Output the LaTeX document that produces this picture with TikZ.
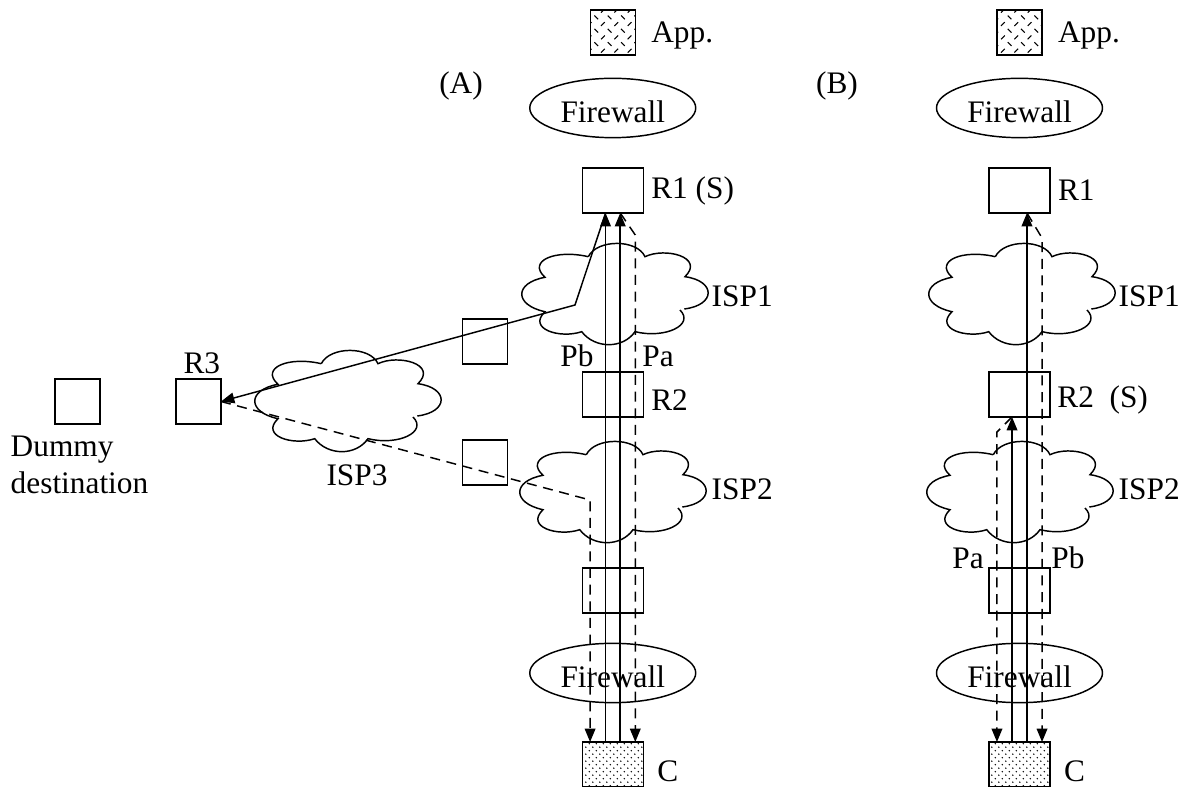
\documentclass[tikz,border=0pt]{standalone}
\usepackage{fontspec}
\setmainfont{Liberation Serif}
\usepackage{tikz}
\usetikzlibrary{shapes.geometric, arrows.meta, positioning, patterns}
\pgfdeclarepatternformonly{appdash}{\pgfqpoint{-1pt}{-1pt}}{\pgfqpoint{11pt}{11pt}}{\pgfqpoint{10pt}{10pt}}{
    \pgfsetlinewidth{0.8pt}
    \pgfpathmoveto{\pgfqpoint{0.8pt}{0.8pt}}\pgfpathlineto{\pgfqpoint{3.6pt}{3.6pt}}
    \pgfpathmoveto{\pgfqpoint{5.8pt}{8.6pt}}\pgfpathlineto{\pgfqpoint{8.6pt}{5.8pt}}
    \pgfusepath{stroke}}
\pgfdeclarepatternformonly{hostdots}{\pgfqpoint{-1pt}{-1pt}}{\pgfqpoint{6.25pt}{6.25pt}}{\pgfqpoint{5.25pt}{5.25pt}}{
    \pgfpathcircle{\pgfqpoint{1pt}{1pt}}{0.6pt}
    \pgfpathcircle{\pgfqpoint{3.625pt}{3.625pt}}{0.6pt}
    \pgfusepath{fill}}

\begin{document}
\begin{tikzpicture}[
    x=0.75pt,
    y=-0.75pt,
    line width=1.1pt,
    >={Triangle[length=10pt,width=8pt]},
    every node/.style={font=\fontsize{23.5}{27.75}\selectfont},
    router/.style={rectangle, draw, outer sep=0pt, minimum width=45.75pt, minimum height=33.75pt},
    small/.style={rectangle, draw, outer sep=0pt, minimum width=33.75pt, minimum height=33.75pt},
    firewall/.style={ellipse, draw, outer sep=0pt, minimum width=124.5pt, minimum height=44.5pt, inner sep=0pt, text height=22.5pt, text depth=0pt},
    tag/.style={inner sep=0pt, anchor=west},
    dashline/.style={dashed, dash pattern=on 7.5pt off 5pt},
    ispcloud/.pic={
        \draw (-26.7,-38.3) .. controls (-18,-56) and (22,-56) .. (30,-38.3)
              .. controls (50,-48) and (90,-38) .. (70,-18.3)
              .. controls (101,-14) and (101,10) .. (69.3,14);
        \draw (65,15) .. controls (80,30) and (50,44) .. (20,36.7)
              .. controls (8,54) and (-20,54) .. (-33.3,36.7)
              .. controls (-55,44) and (-88,34) .. (-70,16.7)
              .. controls (-101,10) and (-101,-12) .. (-70,-17.7)
              .. controls (-88,-34) and (-60,-46) .. (-26.7,-38.3);
    }
]
\useasboundingbox (0,0) rectangle (1183,787);

% Column A
\node[router] (r1a) at (612.75,190.5) {};
\node[router, below=119.25pt of r1a] (r2a) {};
\node[router, below=113.25pt of r2a] (r4a) {};
\node[router, below=96.75pt of r4a, pattern=hostdots] (ca) {};
\node[small, above=84.75pt of r1a, pattern=appdash] (appa) {};
\node[firewall] (fwtopa) at (612.75,108) {Firewall};
\node[firewall] (fwbota) at (612.75,673) {Firewall};

% Column B
\node[router] (r1b) at (1019.5,190.5) {};
\node[router, below=119.25pt of r1b] (r2b) {};
\node[router, below=113.25pt of r2b] (r4b) {};
\node[router, below=96.75pt of r4b, pattern=hostdots] (cb) {};
\node[small, above=84.75pt of r1b, pattern=appdash] (appb) {};
\node[firewall] (fwtopb) at (1019.5,108) {Firewall};
\node[firewall] (fwbotb) at (1019.5,673) {Firewall};

% Left side boxes
\node[small] (sideup) at (485,341.5) {};
\node[small] (sidedown) at (485,462.5) {};
\node[small] (r3) at (198.5,401.5) {};
\node[small, left=57pt of r3] (dummy) {};

% Clouds
\pic (isp1a) at (615,295) {ispcloud};
\pic (isp2a) at (613,493) {ispcloud};
\pic (isp3) at (348,402) {ispcloud};
\pic (isp1b) at (1022,295) {ispcloud};
\pic (isp2b) at (1020,493) {ispcloud};

% Labels
\node[tag, right=11.5pt of appa, yshift=-2pt] (appatext) {App.};
\node[tag, right=11.5pt of appb, yshift=-2pt] (appbtext) {App.};
\node[tag, right=5.5pt of r1a] (r1atext) {R1 (S)};
\node[tag, right=5.5pt of r1b] (r1btext) {R1};
\node[tag, right=5.5pt of r2a, yshift=-4pt] (r2atext) {R2};
\node[tag, right=5pt of r2b, yshift=-4pt] (r2btext) {R2\ \ (S)};
\node[tag, right=10pt of ca, yshift=-5pt] (catext) {C};
\node[tag, right=10pt of cb, yshift=-5pt] (cbtext) {C};
\node (labela) at (461,86) {(A)};
\node (labelb) at (837,86) {(B)};
\node[tag] (isp1atext) at (711,296) {ISP1};
\node[tag] (isp2atext) at (711,489) {ISP2};
\node[tag] (isp1btext) at (1118,296) {ISP1};
\node[tag] (isp2btext) at (1118,489) {ISP2};
\node (isp3text) at (357,475) {ISP3};
\node[inner sep=0pt, above=3pt of r3, xshift=2.5pt] (r3text) {R3};
\node[align=left, inner sep=0pt, anchor=west] (dummytext) at (10,465) {Dummy\\destination};
\node (pbatext) at (577,356) {Pb};
\node (paatext) at (658,356) {Pa};
\node (pabtext) at (968,558) {Pa};
\node (pbbtext) at (1068,558) {Pb};

% Waypoints
\coordinate (turnup) at (575,305);
\coordinate (turndown) at ([xshift=-17pt]r4a.north |- 0,500);
\coordinate (bendaa) at ([xshift=16.9pt]r1a.south |- 0,235);
\coordinate (bendab) at ([xshift=16.9pt]r1b.south |- 0,238);
\coordinate (bendbb) at ([xshift=-16.9pt]r2b.south |- 0,432);

% Paths A
\draw[->] ([xshift=-5.4pt]ca.north) -- ([xshift=-5.4pt]r1a.south);
\draw[->] ([xshift=5.6pt]ca.north) -- ([xshift=5.6pt]r1a.south);
\draw[->] ([xshift=-5.4pt]r1a.south) -- (turnup) -- (r3.east);
\draw[->, dashline] ([xshift=5.6pt]r1a.south) -- (bendaa) -- ([xshift=16.9pt]ca.north);
\draw[->, dashline] (r3.east) -- (turndown) -- ([xshift=-17pt]ca.north);

% Paths B
\draw[->] ([xshift=-5.6pt]cb.north) -- ([xshift=-5.6pt]r2b.south);
\draw[->] ([xshift=5.6pt]cb.north) -- ([xshift=5.6pt]r1b.south);
\draw[->, dashline] ([xshift=5.6pt]r1b.south) -- (bendab) -- ([xshift=16.9pt]cb.north);
\draw[->, dashline] ([xshift=-5.6pt]r2b.south) -- (bendbb) -- ([xshift=-16.9pt]cb.north);

\end{tikzpicture}
\end{document}
